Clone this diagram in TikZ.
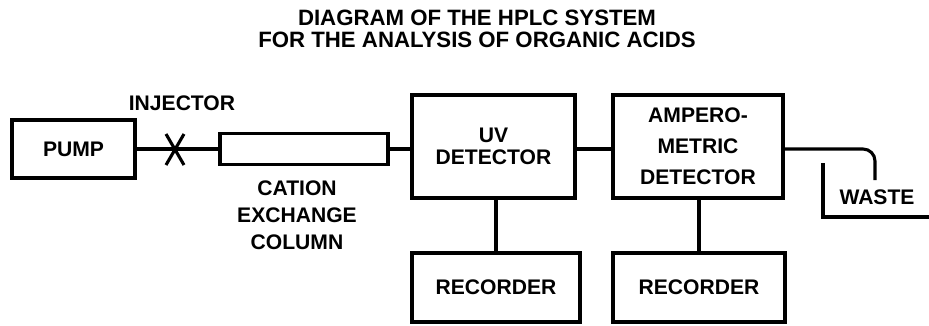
\documentclass[tikz,border=0pt]{standalone}
\usepackage{fontspec}
\setmainfont{Liberation Sans}
\newcommand\lbl{\bfseries\fontsize{15}{15.6}\selectfont}

\begin{document}
\begin{tikzpicture}[x=0.025cm,y=-0.025cm,line width=2.2pt,
  box/.style={draw,inner sep=0pt,font=\lbl,align=center},
  txt/.style={inner sep=0pt,font=\lbl,align=center}]
\useasboundingbox (0,0) rectangle (929,325);
\node[txt,font=\bfseries\fontsize{15.8}{15.6}\selectfont] (title) at (477,29)
  {DIAGRAM OF THE HPLC SYSTEM\\FOR THE ANALYSIS OF ORGANIC ACIDS};
\node[box,minimum width=3.075cm,minimum height=1.45cm] (pump) at (73.5,149) {PUMP};
\node[box,minimum width=4.2cm,minimum height=0.775cm] (col) at (304,149) {};
\node[box,minimum width=4.075cm,minimum height=2.575cm] (uv) at (493.5,146.5) {UV\\DETECTOR};
\node[box,minimum width=4.25cm,minimum height=2.575cm,
  font=\bfseries\fontsize{15}{22}\selectfont] (amp) at (698,146.5) {AMPERO-\\METRIC\\DETECTOR};
\node[box,minimum width=4.2cm,minimum height=1.725cm] (rec1) at (496,287.5) {RECORDER};
\node[box,minimum width=4.3cm,minimum height=1.725cm] (rec2) at (699,287.5) {RECORDER};
% injector valve on the pump line
\coordinate (inj) at (175,149);
\draw (pump.east) -- (col.west);
\draw (inj) +(-9,-15) -- +(9,16) (inj) +(9,-15) -- +(-9,16);
\node[txt] (injl) at (182,103) {INJECTOR};
\node[txt,font=\bfseries\fontsize{15}{19.2}\selectfont] (coll) at (297,215)
  {CATION\\EXCHANGE\\COLUMN};
\draw (col.east) -- (col.east -| uv.west);
\draw (uv.east |- col.east) -- (col.east -| amp.west);
\draw (uv.south -| rec1.north) -- (rec1.north);
\draw (amp.south -| rec2.north) -- (rec2.north);
% outlet into the waste vessel
\coordinate (drain) at (875,180);
\draw[rounded corners=0.3cm] (amp.east |- col.east) -| (drain);
\draw (823,163) -- (823,217) -- (929,217);
\node[txt] (waste) at (877,197) {WASTE};
\end{tikzpicture}
\end{document}
